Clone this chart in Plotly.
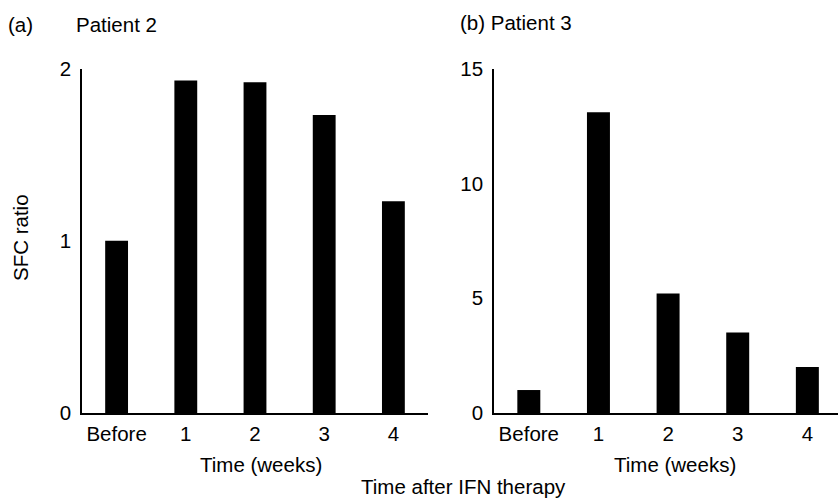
import plotly.graph_objects as go

categories = ["Before", "1", "2", "3", "4"]
patient2_sfc = [1.0, 1.93, 1.92, 1.73, 1.23]
patient3_sfc = [1.0, 13.1, 5.2, 3.5, 2.0]
p2_yticks = [0, 1, 2]
p3_yticks = [0, 5, 10, 15]

W, H = 838, 499
FONT = "Liberation Sans, Arial, Helvetica, sans-serif"
FS = 20.5

fig = go.Figure()
fig.add_bar(x=categories, y=patient2_sfc, xaxis="x", yaxis="y", width=0.33,
            marker=dict(color="black", line=dict(width=0)))
fig.add_bar(x=categories, y=patient3_sfc, xaxis="x2", yaxis="y2", width=0.33,
            marker=dict(color="black", line=dict(width=0)))

ydom = [1 - 413 / H, 1 - 68.5 / H]
common_x = dict(type="category", showline=True, linecolor="black", linewidth=1.5, ticks="",
                showgrid=False, zeroline=False, automargin=False,
                tickfont=dict(size=FS, color="black"), ticklabelstandoff=2)
common_y = dict(showline=True, linecolor="black", linewidth=1.5, ticks="", showgrid=False,
                zeroline=False, automargin=False, tickfont=dict(size=FS, color="black"),
                ticklabelstandoff=5)

fig.update_layout(
    template="none",
    width=W, height=H,
    margin=dict(l=0, r=0, t=0, b=0),
    paper_bgcolor="white", plot_bgcolor="white",
    showlegend=False,
    font=dict(family=FONT, size=FS, color="black"),
    xaxis=dict(domain=[82 / W, 428 / W], range=[-0.5, 4.5], anchor="y", **common_x),
    yaxis=dict(domain=ydom, range=[0, 2], tickvals=p2_yticks, anchor="x", **common_y),
    xaxis2=dict(domain=[494 / W, 1.0], range=[-0.5, 4.44], anchor="y2", **common_x),
    yaxis2=dict(domain=ydom, range=[0, 15], tickvals=p3_yticks, anchor="x2", **common_y),
)

def ann(text, x, y, xanchor="left", angle=0, yanchor="middle"):
    fig.add_annotation(text=text, x=x / W, y=1 - y / H, xref="paper", yref="paper",
                       xanchor=xanchor, yanchor=yanchor, showarrow=False,
                       textangle=angle, borderpad=0,
                       font=dict(size=FS, color="black", family=FONT))

ann("(a)", 7, 24)
ann("Patient 2", 75, 24)
ann("(b) Patient 3", 459, 22)
ann("SFC ratio", 20, 238, xanchor="center", angle=-90)
ann("Time (weeks)", 261, 464, xanchor="center")
ann("Time (weeks)", 675, 464, xanchor="center")
ann("Time after IFN therapy", 464, 498.5, xanchor="center", yanchor="bottom")

fig.write_html("out.html")
